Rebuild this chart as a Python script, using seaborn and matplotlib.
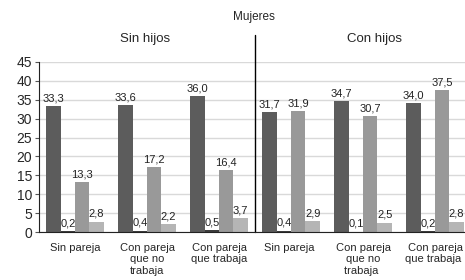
import pandas as pd
import matplotlib.pyplot as plt
import seaborn as sns

groups = ['Sin pareja', 'Con pareja\nque no\ntrabaja', 'Con pareja\nque trabaja',
          'Sin pareja ', 'Con pareja\nque no\ntrabaja ', 'Con pareja\nque trabaja ']
series = ['s1', 's2', 's3', 's4']
s1 = [33.3, 33.6, 36.0, 31.7, 34.7, 34.0]
s2 = [0.2, 0.4, 0.5, 0.4, 0.1, 0.2]
s3 = [13.3, 17.2, 16.4, 31.9, 30.7, 37.5]
s4 = [2.8, 2.2, 3.7, 2.9, 2.5, 2.8]
yticks = [0, 5, 10, 15, 20, 25, 30, 35, 40, 45]

rows = []
for name, vals in zip(series, [s1, s2, s3, s4]):
    for g, v in zip(groups, vals):
        rows.append({'grupo': g, 'serie': name, 'valor': v})
df = pd.DataFrame(rows)

sns.set_style('white')
plt.rcParams['font.family'] = ['Liberation Sans', 'DejaVu Sans']

fig = plt.figure(figsize=(4.65, 2.8), dpi=100)
ax = fig.add_axes([0.084, 0.171, 0.929, 0.608])

palette = ['#5c5c5c', '#3c3c3c', '#999999', '#b5b5b5']
sns.barplot(data=df, x='grupo', y='valor', hue='serie', palette=palette,
            width=0.8, gap=0, legend=False, ax=ax, saturation=1, linewidth=0)

for cont in ax.containers:
    labels = [f'{b.get_height():.1f}'.replace('.', ',') for b in cont]
    ax.bar_label(cont, labels=labels, fontsize=8, padding=2, color='#222222')

ax.set_ylim(0, 45)
ax.set_yticks(yticks)
ax.set_xlim(-0.5, 5.5)
ax.yaxis.grid(True, color='#d9d9d9', linewidth=1)
ax.set_axisbelow(True)
ax.set_xlabel('')
ax.set_ylabel('')
ax.tick_params(axis='y', labelsize=10, length=3, left=True, color='#555555', pad=2)
ax.tick_params(axis='x', labelsize=8, length=0, pad=8)
for lbl in ax.get_xticklabels():
    lbl.set_linespacing(1.15)
sns.despine(ax=ax, top=True, right=True)
ax.spines['left'].set_color('#222222')
ax.spines['bottom'].set_color('#222222')

ax.axvline(2.5, ymin=0, ymax=1.16, color='black', linewidth=1, clip_on=False)

fig.text(0.546, 0.94, 'Mujeres', ha='center', va='center', fontsize=8.5)
fig.text(0.312, 0.862, 'Sin hijos', ha='center', va='center', fontsize=9.5)
fig.text(0.806, 0.862, 'Con hijos', ha='center', va='center', fontsize=9.5)

fig.savefig('out.png', dpi=100)
